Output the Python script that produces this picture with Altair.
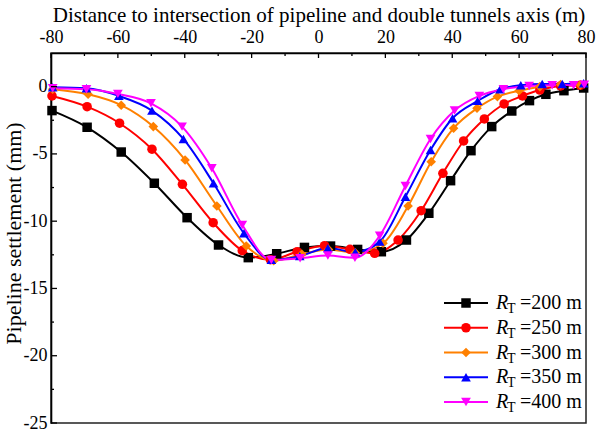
import altair as alt
import pandas as pd

series = ["R200", "R250", "R300", "R350", "R400"]
legend_text = ["=200 m", "=250 m", "=300 m", "=350 m", "=400 m"]
colors = ["#000000", "#ff0000", "#ff8000", "#0000ff", "#ff00ff"]
shapes = ["square", "circle", "diamond", "triangle-up", "triangle-down"]

x_200 = [-79.7, -69.2, -59.0, -49.1, -39.3, -29.9, -21.0, -12.5, -4.2, 3.6, 11.7, 18.8,
         26.3, 33.0, 39.5, 45.6, 51.8, 57.8, 63.1, 68.0, 73.4, 79.3]
y_200 = [-1.78, -3.02, -4.86, -7.18, -9.74, -11.77, -12.71, -12.42, -11.95, -11.85, -12.1, -12.27,
         -11.4, -9.41, -6.99, -4.76, -2.97, -1.81, -1.04, -0.57, -0.3, -0.1]

x_250 = [-79.7, -69.2, -59.5, -49.8, -40.7, -31.5, -22.8, -14.4, -6.4, 1.8, 9.4, 16.8,
         23.8, 30.7, 37.2, 43.4, 49.6, 55.5, 61.0, 66.2, 72.4, 78.3]
y_250 = [-0.69, -1.49, -2.72, -4.65, -7.26, -10.11, -12.19, -12.86, -12.27, -11.82, -12.09, -12.39,
         -11.4, -9.22, -6.44, -4.04, -2.4, -1.29, -0.69, -0.25, 0.05, 0.1]

x_300 = [-79.5, -68.9, -59.0, -49.4, -39.9, -30.4, -21.6, -13.4, -5.0, 3.0, 11.0, 19.3,
         26.8, 33.7, 40.4, 47.4, 53.5, 60.0, 66.2, 72.4, 78.3]
y_300 = [-0.19, -0.57, -1.38, -2.97, -5.45, -8.87, -11.84, -12.94, -12.45, -12.1, -12.35, -11.64,
         -8.87, -5.58, -3.09, -1.61, -0.74, -0.3, 0.0, 0.15, 0.13]

x_350 = [-79.5, -69.4, -59.7, -49.8, -40.4, -31.4, -22.3, -14.1, -5.6, 2.8, 11.0, 18.3,
         26.0, 33.5, 40.1, 47.6, 54.3, 60.5, 66.9, 72.9, 79.3]
y_350 = [-0.05, -0.12, -0.69, -1.78, -3.89, -7.18, -10.9, -12.88, -12.6, -12.0, -12.3, -11.52,
         -8.18, -4.71, -2.35, -1.06, -0.19, 0.1, 0.2, 0.2, 0.25]

x_400 = [-79.5, -69.4, -60.0, -50.1, -40.8, -31.9, -22.8, -14.1, -5.5, 2.8, 10.9, 18.3,
         26.0, 33.5, 40.7, 48.1, 55.3, 63.0, 69.9, 76.3, 79.5]
y_400 = [-0.12, -0.2, -0.54, -1.24, -2.97, -6.07, -10.28, -12.88, -12.75, -12.55, -12.72, -11.08,
         -7.38, -3.89, -1.78, -0.69, -0.19, 0.05, 0.1, 0.1, 0.15]

x_major = [-80, -60, -40, -20, 0, 20, 40, 60, 80]
x_minor = [-70, -50, -30, -10, 10, 30, 50, 70]
y_major = [0, -5, -10, -15, -20, -25]
y_minor = [-2.5, -7.5, -12.5, -17.5, -22.5]

xs = [x_200, x_250, x_300, x_350, x_400]
ys = [y_200, y_250, y_300, y_350, y_400]
rows = []
for s, xv, yv in zip(series, xs, ys):
    for a, b in zip(xv, yv):
        rows.append({"series": s, "x": a, "y": b})
df = pd.DataFrame(rows)

FONT = "Liberation Serif, Times New Roman, serif"

xscale = alt.Scale(domain=[-80, 80], nice=False, zero=False)
yscale = alt.Scale(domain=[-25, 2.5], nice=False, zero=False)
color = alt.Color("series:N", scale=alt.Scale(domain=series, range=colors), legend=None)
shape = alt.Shape("series:N", scale=alt.Scale(domain=series, range=shapes), legend=None)
size = alt.Size("series:N", scale=alt.Scale(domain=series, range=[90, 95, 125, 100, 100]), legend=None)

X = alt.X("x:Q", scale=xscale,
          axis=alt.Axis(orient="top", values=x_major, ticks=False, grid=False,
                        labelFlush=False, labelOverlap=False,
                        labelExpr="'' + datum.value", labelPadding=7,
                        title="Distance to intersection of pipeline and double tunnels axis (m)",
                        titlePadding=3))
Y = alt.Y("y:Q", scale=yscale,
          axis=alt.Axis(orient="left", values=y_major, ticks=False, grid=False,
                        labelFlush=False, labelOverlap=False,
                        labelExpr="'' + datum.value", labelPadding=4,
                        title="Pipeline settlement (mm)", titleX=-26, titleY=180,
                        titleBaseline="bottom", titleAngle=270))

base = alt.Chart(df)
lines = base.mark_line(strokeWidth=2, interpolate="monotone").encode(
    x=X, y=Y, color=color, detail="series:N")
points = base.mark_point(filled=True, opacity=1).encode(
    x=X, y=Y, color=color, shape=shape, size=size)

xt_major = alt.Chart(pd.DataFrame({"x": x_major})).mark_rule(color="black", strokeWidth=1.3).encode(
    x=alt.X("x:Q", scale=xscale), y=alt.value(0), y2=alt.value(5))
xt_minor = alt.Chart(pd.DataFrame({"x": x_minor})).mark_rule(color="black", strokeWidth=1.3).encode(
    x=alt.X("x:Q", scale=xscale), y=alt.value(0), y2=alt.value(3))
yt_major = alt.Chart(pd.DataFrame({"y": y_major})).mark_rule(color="black", strokeWidth=1.3).encode(
    y=alt.Y("y:Q", scale=yscale), x=alt.value(0), x2=alt.value(6))
yt_minor = alt.Chart(pd.DataFrame({"y": y_minor})).mark_rule(color="black", strokeWidth=1.3).encode(
    y=alt.Y("y:Q", scale=yscale), x=alt.value(0), x2=alt.value(3))

main = alt.layer(lines, points, xt_major, xt_minor, yt_major, yt_minor)

leg_df = pd.DataFrame({"series": series, "txt": legend_text})
leg_y = alt.Y("series:N", scale=alt.Scale(type="point", domain=series, range=[250, 349], padding=0),
              axis=None)
leg = alt.Chart(leg_df)
leg_line = leg.mark_rule(strokeWidth=2).encode(
    x=alt.value(393), x2=alt.value(437), y=leg_y, color=color)
leg_pt = leg.mark_point(filled=True, opacity=1).encode(
    x=alt.value(415), y=leg_y, color=color, shape=shape, size=size)
leg_r = leg.mark_text(text="R", font=FONT, fontSize=20, fontStyle="italic", align="left",
                      baseline="middle", color="black").encode(x=alt.value(445), y=leg_y)
leg_t = leg.mark_text(text="T", font=FONT, fontSize=14, align="left", baseline="middle",
                      dy=6, color="black").encode(x=alt.value(456), y=leg_y)
leg_txt = leg.mark_text(font=FONT, fontSize=20, align="left", baseline="middle",
                        color="black").encode(x=alt.value(469), y=leg_y, text="txt:N")
legend = alt.layer(leg_line, leg_pt, leg_r, leg_t, leg_txt)

chart = alt.layer(main, legend).resolve_scale(y="independent").properties(
    width=535, height=370,
    autosize=alt.AutoSizeParams(type="none"),
    padding={"left": 51, "top": 53, "right": 10, "bottom": 12},
).configure_view(stroke="#222", strokeWidth=1.5).configure_axis(
    labelFont=FONT, titleFont=FONT, labelFontSize=18, titleFontSize=21,
    titleFontWeight="normal", labelColor="black", titleColor="black",
    domainColor="black", domainWidth=1.6,
).configure_axisY(titleFontSize=22)

chart.save("out.html", embed_options={"renderer": "svg", "actions": False})
